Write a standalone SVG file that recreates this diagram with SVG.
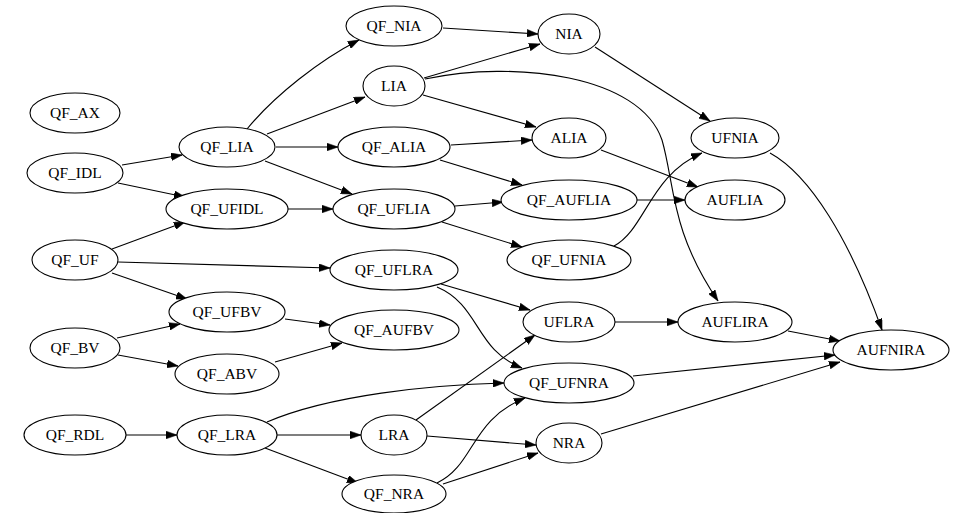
<svg xmlns="http://www.w3.org/2000/svg" width="961" height="513" viewBox="0 0 961 513">
<style>
.n ellipse{fill:#fff;stroke:#000;stroke-width:1.1}
.n text{font-size:15.5px;text-anchor:middle;fill:#000}
#edges path{fill:none;stroke:#000;stroke-width:1.1;marker-end:url(#ah)}
</style>
<defs>
<marker id="ah" viewBox="0 0 10 7" refX="10" refY="3.5" markerWidth="11" markerHeight="8" markerUnits="userSpaceOnUse" orient="auto">
<path d="M0,0 L10,3.5 L0,7 z" fill="#000" stroke="#000" stroke-width="0.5"/>
</marker>
</defs>
<rect width="961" height="513" fill="#fff"/>
<g id="edges">
<path d="M122,165 L182,155"/>
<path d="M118,183 L185,197"/>
<path d="M112,249 L185,222"/>
<path d="M118,262 L330,268"/>
<path d="M112,273 L187,299"/>
<path d="M117,338 L180,324"/>
<path d="M118,355 L178,366"/>
<path d="M126,435 L177,435"/>
<path d="M247,129 C275,95 320,60 359,40"/>
<path d="M267,134 L365,97"/>
<path d="M276,147 L338,147"/>
<path d="M265,161 L352,194"/>
<path d="M288,209 L333,209"/>
<path d="M285,319 L330,325"/>
<path d="M275,362 L342,343"/>
<path d="M267,422 C330,395 430,385 504,383"/>
<path d="M277,435 L361,435"/>
<path d="M265,448 L358,483"/>
<path d="M443,28 L538,34"/>
<path d="M424,78 L540,44"/>
<path d="M425,79 C515,60 640,75 662,140 C675,185 670,230 718,301"/>
<path d="M423,95 L536,127"/>
<path d="M451,145 L532,140"/>
<path d="M440,160 L522,185"/>
<path d="M455,206 L503,202"/>
<path d="M442,222 L522,247"/>
<path d="M441,284 L530,310"/>
<path d="M437,287 C480,305 475,350 522,368"/>
<path d="M416,420 L535,335"/>
<path d="M427,436 L536,445"/>
<path d="M437,483 C475,465 470,420 525,398"/>
<path d="M443,484 L538,453"/>
<path d="M595,47 L710,121"/>
<path d="M601,150 L698,187"/>
<path d="M637,200 L685,200"/>
<path d="M614,246 C645,230 650,175 702,153"/>
<path d="M770,153 C810,175 850,240 882,330"/>
<path d="M615,322 L678,322"/>
<path d="M788,331 L840,341"/>
<path d="M633,376 L835,355"/>
<path d="M601,434 L840,362"/>
</g>
<g font-family="'Liberation Serif', 'Times New Roman', 'DejaVu Serif', serif">
<g id="QF_AX" class="n"><ellipse cx="75" cy="113" rx="45" ry="20"/><text x="75" y="118">QF_AX</text></g>
<g id="QF_IDL" class="n"><ellipse cx="75" cy="173" rx="48" ry="20"/><text x="75" y="178">QF_IDL</text></g>
<g id="QF_UF" class="n"><ellipse cx="75" cy="260" rx="43" ry="20"/><text x="75" y="265">QF_UF</text></g>
<g id="QF_BV" class="n"><ellipse cx="75" cy="348" rx="45" ry="20"/><text x="75" y="353">QF_BV</text></g>
<g id="QF_RDL" class="n"><ellipse cx="75" cy="435" rx="51" ry="20"/><text x="75" y="440">QF_RDL</text></g>
<g id="QF_LIA" class="n"><ellipse cx="227" cy="147" rx="48" ry="20"/><text x="227" y="152">QF_LIA</text></g>
<g id="QF_UFIDL" class="n"><ellipse cx="227" cy="209" rx="61" ry="20"/><text x="227" y="214">QF_UFIDL</text></g>
<g id="QF_UFBV" class="n"><ellipse cx="227" cy="312" rx="58" ry="20"/><text x="227" y="317">QF_UFBV</text></g>
<g id="QF_ABV" class="n"><ellipse cx="227" cy="374" rx="52" ry="20"/><text x="227" y="379">QF_ABV</text></g>
<g id="QF_LRA" class="n"><ellipse cx="227" cy="435" rx="50" ry="20"/><text x="227" y="440">QF_LRA</text></g>
<g id="QF_NIA" class="n"><ellipse cx="394" cy="26" rx="48" ry="20"/><text x="394" y="31">QF_NIA</text></g>
<g id="LIA" class="n"><ellipse cx="394" cy="86" rx="31" ry="20"/><text x="394" y="91">LIA</text></g>
<g id="QF_ALIA" class="n"><ellipse cx="394" cy="147" rx="56" ry="20"/><text x="394" y="152">QF_ALIA</text></g>
<g id="QF_UFLIA" class="n"><ellipse cx="394" cy="209" rx="61" ry="20"/><text x="394" y="214">QF_UFLIA</text></g>
<g id="QF_UFLRA" class="n"><ellipse cx="394" cy="270" rx="64" ry="20"/><text x="394" y="275">QF_UFLRA</text></g>
<g id="QF_AUFBV" class="n"><ellipse cx="394" cy="330" rx="65" ry="20"/><text x="394" y="335">QF_AUFBV</text></g>
<g id="LRA" class="n"><ellipse cx="394" cy="435" rx="33" ry="20"/><text x="394" y="440">LRA</text></g>
<g id="QF_NRA" class="n"><ellipse cx="394" cy="494" rx="52" ry="19"/><text x="394" y="499">QF_NRA</text></g>
<g id="NIA" class="n"><ellipse cx="569" cy="34" rx="31" ry="20"/><text x="569" y="39">NIA</text></g>
<g id="ALIA" class="n"><ellipse cx="569" cy="138" rx="37" ry="20"/><text x="569" y="143">ALIA</text></g>
<g id="QF_AUFLIA" class="n"><ellipse cx="569" cy="200" rx="68" ry="20"/><text x="569" y="205">QF_AUFLIA</text></g>
<g id="QF_UFNIA" class="n"><ellipse cx="569" cy="260" rx="62" ry="20"/><text x="569" y="265">QF_UFNIA</text></g>
<g id="UFLRA" class="n"><ellipse cx="569" cy="322" rx="46" ry="20"/><text x="569" y="327">UFLRA</text></g>
<g id="QF_UFNRA" class="n"><ellipse cx="569" cy="383" rx="65" ry="20"/><text x="569" y="388">QF_UFNRA</text></g>
<g id="NRA" class="n"><ellipse cx="569" cy="443" rx="33" ry="20"/><text x="569" y="448">NRA</text></g>
<g id="UFNIA" class="n"><ellipse cx="735" cy="138" rx="44" ry="20"/><text x="735" y="143">UFNIA</text></g>
<g id="AUFLIA" class="n"><ellipse cx="735" cy="200" rx="50" ry="20"/><text x="735" y="205">AUFLIA</text></g>
<g id="AUFLIRA" class="n"><ellipse cx="735" cy="322" rx="57" ry="20"/><text x="735" y="327">AUFLIRA</text></g>
<g id="AUFNIRA" class="n"><ellipse cx="891" cy="350" rx="58" ry="20"/><text x="891" y="355">AUFNIRA</text></g>
</g>
</svg>
